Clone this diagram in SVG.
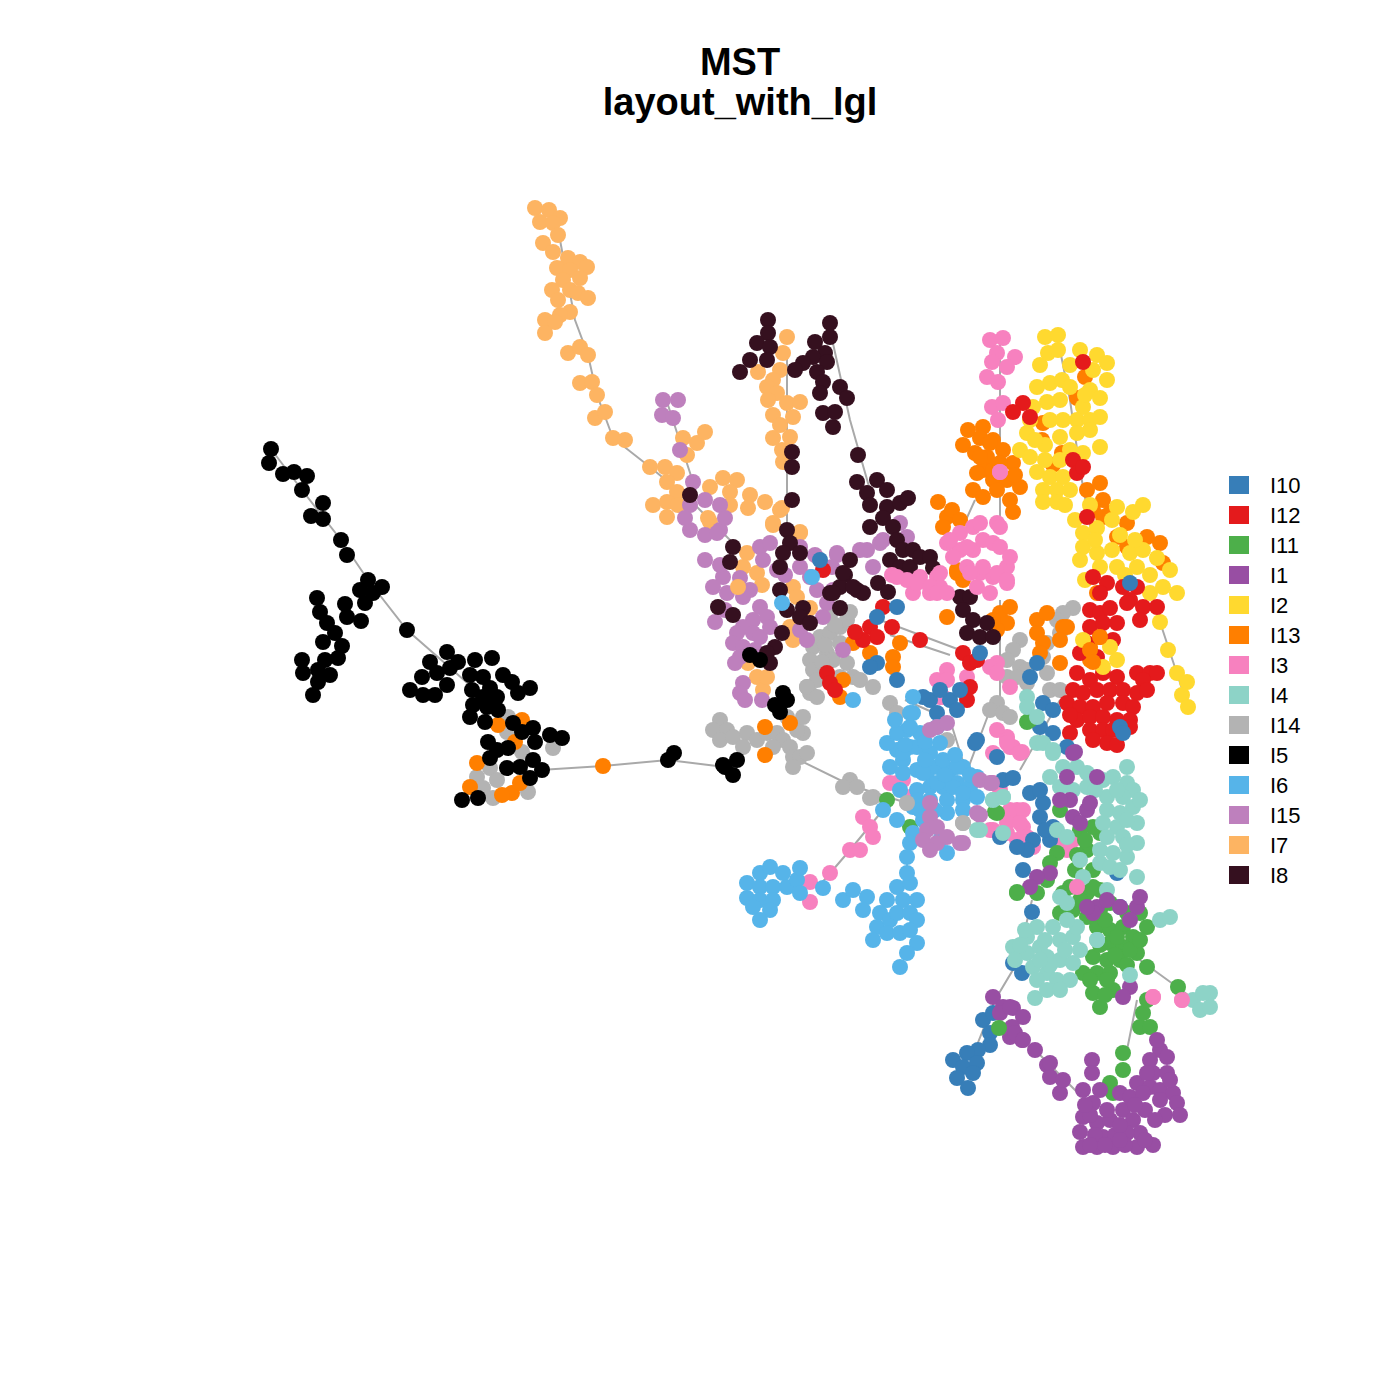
<svg xmlns="http://www.w3.org/2000/svg" width="1400" height="1400" viewBox="0 0 1400 1400">
<style>
circle{r:8px}
.t{font-family:"Liberation Sans",Arial,sans-serif;font-weight:bold;font-size:38px;text-anchor:middle;fill:#000}
.l{font-family:"Liberation Sans",Arial,sans-serif;font-size:22px;fill:#000}
.e{fill:none;stroke:#A9A9A9;stroke-width:2}
</style>
<rect width="1400" height="1400" fill="#fff"/>
<text class="t" x="740" y="75">MST</text>
<text class="t" x="740" y="115">layout_with_lgl</text>
<g id="edges">
<path class="e" d="M271,449 L302,490 L341,540 L368,580 L407,630 L447,665 L483,697 L507,730 L540,770 L603,766 L668,760 L725,767 M560,240 L575,320 L588,355 L597,395 L613,438 L650,467 L690,500 L740,550 M668,405 L693,482 M787,350 L787,540 M830,330 L850,420 L870,490 M793,757 L850,785 L907,803 M907,857 L907,887 M883,810 L850,850 L820,885 M1058,340 L1070,400 L1080,470 L1100,580 M1160,622 L1188,707 M1000,345 L1000,520 M975,500 L950,555 M990,710 L960,790 M1032,900 L1017,963 L995,1000 L975,1050 M1137,1000 L1125,1060 M1140,960 L1195,1000 M1035,1050 L1080,1095 M890,635 L950,655 M905,700 L950,720 L975,800 M880,620 L960,650 M1000,600 L1000,720 M1060,700 L1020,770"/>
</g>
<g id="I14" fill="#B3B3B3">
<circle cx="508" cy="717"/><circle cx="507" cy="732"/><circle cx="522" cy="752"/><circle cx="553" cy="748"/><circle cx="490" cy="768"/><circle cx="477" cy="777"/><circle cx="497" cy="780"/><circle cx="483" cy="788"/><circle cx="493" cy="798"/><circle cx="528" cy="792"/>
<circle cx="813" cy="647"/><circle cx="810" cy="660"/><circle cx="820" cy="637"/><circle cx="830" cy="633"/><circle cx="840" cy="627"/><circle cx="847" cy="620"/><circle cx="840" cy="643"/><circle cx="827" cy="653"/><circle cx="813" cy="670"/><circle cx="817" cy="680"/><circle cx="807" cy="687"/><circle cx="810" cy="693"/><circle cx="833" cy="660"/><circle cx="847" cy="663"/><circle cx="853" cy="677"/><circle cx="840" cy="677"/>
<circle cx="720" cy="720"/><circle cx="713" cy="730"/><circle cx="727" cy="730"/><circle cx="720" cy="740"/><circle cx="733" cy="737"/><circle cx="747" cy="733"/><circle cx="743" cy="747"/><circle cx="757" cy="740"/><circle cx="767" cy="733"/><circle cx="777" cy="733"/><circle cx="783" cy="740"/><circle cx="773" cy="747"/><circle cx="790" cy="747"/><circle cx="793" cy="757"/><circle cx="800" cy="757"/><circle cx="807" cy="753"/><circle cx="803" cy="733"/><circle cx="797" cy="730"/><circle cx="803" cy="717"/><circle cx="787" cy="717"/><circle cx="807" cy="687"/><circle cx="817" cy="697"/><circle cx="850" cy="780"/><circle cx="843" cy="787"/><circle cx="857" cy="787"/><circle cx="873" cy="797"/><circle cx="793" cy="767"/><circle cx="870" cy="798"/><circle cx="907" cy="803"/><circle cx="963" cy="823"/>
<circle cx="1073" cy="608"/><circle cx="1063" cy="613"/><circle cx="1057" cy="620"/><circle cx="1060" cy="633"/><circle cx="1047" cy="643"/><circle cx="1043" cy="657"/><circle cx="1020" cy="640"/><circle cx="1013" cy="650"/><circle cx="1007" cy="660"/><circle cx="1020" cy="667"/><circle cx="1027" cy="670"/><circle cx="1007" cy="677"/><circle cx="1017" cy="677"/><circle cx="1027" cy="683"/><circle cx="1047" cy="673"/><circle cx="1050" cy="690"/><circle cx="1060" cy="690"/><circle cx="997" cy="703"/><circle cx="990" cy="710"/><circle cx="1003" cy="713"/><circle cx="947" cy="740"/>
<circle cx="830" cy="615"/><circle cx="850" cy="612"/><circle cx="835" cy="625"/><circle cx="860" cy="680"/><circle cx="873" cy="687"/><circle cx="890" cy="703"/><circle cx="897" cy="713"/><circle cx="1010" cy="717"/><circle cx="825" cy="645"/><circle cx="822" cy="662"/>
</g>
<g id="I13" fill="#FF7F00">
<circle cx="522" cy="720"/><circle cx="498" cy="725"/><circle cx="515" cy="742"/><circle cx="477" cy="763"/><circle cx="470" cy="787"/><circle cx="512" cy="793"/><circle cx="520" cy="783"/><circle cx="502" cy="795"/><circle cx="603" cy="766"/>
<circle cx="968" cy="430"/><circle cx="983" cy="427"/><circle cx="963" cy="445"/><circle cx="980" cy="438"/><circle cx="993" cy="440"/><circle cx="1003" cy="450"/><circle cx="975" cy="453"/><circle cx="987" cy="457"/><circle cx="1013" cy="463"/><circle cx="983" cy="470"/><circle cx="993" cy="480"/><circle cx="1007" cy="480"/><circle cx="1020" cy="487"/><circle cx="973" cy="490"/><circle cx="983" cy="497"/><circle cx="997" cy="490"/><circle cx="1010" cy="500"/><circle cx="1013" cy="512"/><circle cx="1043" cy="423"/><circle cx="1042" cy="440"/><circle cx="1053" cy="465"/><circle cx="1062" cy="453"/><circle cx="1077" cy="398"/><circle cx="1085" cy="377"/>
<circle cx="990" cy="443"/><circle cx="980" cy="457"/><circle cx="993" cy="470"/><circle cx="977" cy="473"/><circle cx="938" cy="502"/><circle cx="947" cy="517"/><circle cx="952" cy="510"/><circle cx="960" cy="520"/><circle cx="957" cy="573"/><circle cx="963" cy="580"/><circle cx="943" cy="527"/><circle cx="1000" cy="463"/><circle cx="1015" cy="475"/>
<circle cx="947" cy="617"/><circle cx="1000" cy="613"/><circle cx="1007" cy="623"/><circle cx="997" cy="630"/><circle cx="1037" cy="620"/><circle cx="1047" cy="613"/><circle cx="1037" cy="633"/><circle cx="1043" cy="643"/><circle cx="1063" cy="627"/><circle cx="1060" cy="663"/><circle cx="1040" cy="653"/>
<circle cx="1087" cy="490"/><circle cx="1100" cy="483"/><circle cx="1103" cy="500"/><circle cx="1093" cy="510"/><circle cx="1103" cy="517"/><circle cx="1110" cy="513"/><circle cx="1127" cy="523"/><circle cx="1117" cy="537"/><circle cx="1127" cy="547"/><circle cx="1147" cy="537"/><circle cx="1160" cy="543"/><circle cx="1163" cy="563"/><circle cx="1097" cy="593"/>
<circle cx="853" cy="643"/><circle cx="870" cy="653"/><circle cx="900" cy="643"/><circle cx="893" cy="657"/><circle cx="893" cy="667"/><circle cx="843" cy="680"/><circle cx="840" cy="697"/><circle cx="1010" cy="607"/><circle cx="957" cy="570"/><circle cx="765" cy="727"/><circle cx="765" cy="755"/><circle cx="790" cy="723"/><circle cx="993" cy="620"/><circle cx="1067" cy="627"/><circle cx="1060" cy="640"/><circle cx="1100" cy="637"/><circle cx="1090" cy="647"/><circle cx="1090" cy="660"/>
</g>
<g id="I7" fill="#FDB462">
<circle cx="535" cy="208"/><circle cx="549" cy="210"/><circle cx="560" cy="218"/><circle cx="540" cy="222"/><circle cx="553" cy="223"/><circle cx="558" cy="235"/><circle cx="543" cy="243"/><circle cx="553" cy="252"/><circle cx="568" cy="258"/><circle cx="580" cy="262"/><circle cx="587" cy="267"/><circle cx="557" cy="268"/><circle cx="570" cy="270"/><circle cx="563" cy="280"/><circle cx="580" cy="278"/><circle cx="552" cy="290"/><circle cx="558" cy="300"/><circle cx="570" cy="290"/><circle cx="578" cy="293"/><circle cx="588" cy="298"/><circle cx="570" cy="312"/><circle cx="560" cy="315"/><circle cx="545" cy="320"/><circle cx="555" cy="322"/><circle cx="545" cy="333"/><circle cx="568" cy="353"/><circle cx="580" cy="347"/><circle cx="588" cy="355"/><circle cx="580" cy="383"/><circle cx="592" cy="382"/><circle cx="597" cy="395"/><circle cx="595" cy="418"/><circle cx="605" cy="412"/><circle cx="613" cy="438"/><circle cx="625" cy="440"/><circle cx="650" cy="467"/><circle cx="665" cy="467"/><circle cx="677" cy="473"/><circle cx="667" cy="482"/><circle cx="677" cy="492"/><circle cx="653" cy="505"/><circle cx="667" cy="502"/><circle cx="678" cy="505"/><circle cx="667" cy="517"/><circle cx="710" cy="487"/><circle cx="723" cy="478"/><circle cx="737" cy="480"/><circle cx="730" cy="492"/><circle cx="750" cy="495"/><circle cx="730" cy="505"/><circle cx="748" cy="508"/><circle cx="765" cy="502"/><circle cx="782" cy="508"/><circle cx="773" cy="525"/><circle cx="683" cy="438"/><circle cx="697" cy="443"/><circle cx="705" cy="432"/><circle cx="687" cy="455"/>
<circle cx="787" cy="337"/><circle cx="783" cy="353"/><circle cx="780" cy="370"/><circle cx="758" cy="372"/><circle cx="773" cy="380"/><circle cx="767" cy="387"/><circle cx="777" cy="393"/><circle cx="768" cy="400"/><circle cx="787" cy="403"/><circle cx="800" cy="402"/><circle cx="793" cy="417"/><circle cx="773" cy="415"/><circle cx="780" cy="425"/><circle cx="773" cy="438"/><circle cx="790" cy="437"/><circle cx="782" cy="450"/><circle cx="783" cy="462"/><circle cx="780" cy="510"/><circle cx="773" cy="523"/><circle cx="800" cy="532"/>
<circle cx="710" cy="522"/><circle cx="800" cy="533"/><circle cx="747" cy="553"/><circle cx="743" cy="567"/><circle cx="757" cy="573"/><circle cx="762" cy="585"/><circle cx="793" cy="587"/><circle cx="797" cy="597"/><circle cx="810" cy="608"/><circle cx="790" cy="627"/><circle cx="793" cy="640"/><circle cx="748" cy="663"/><circle cx="757" cy="677"/><circle cx="763" cy="690"/><circle cx="767" cy="677"/>
</g>
<g id="I15" fill="#BE80BD">
<circle cx="663" cy="400"/><circle cx="678" cy="400"/><circle cx="662" cy="415"/><circle cx="673" cy="418"/><circle cx="680" cy="450"/><circle cx="693" cy="482"/>
<circle cx="690" cy="505"/><circle cx="720" cy="505"/><circle cx="690" cy="530"/><circle cx="720" cy="530"/><circle cx="705" cy="500"/><circle cx="705" cy="535"/><circle cx="685" cy="518"/><circle cx="725" cy="518"/>
<circle cx="717" cy="533"/><circle cx="760" cy="547"/><circle cx="770" cy="543"/><circle cx="763" cy="560"/><circle cx="777" cy="570"/><circle cx="723" cy="577"/><circle cx="713" cy="587"/><circle cx="727" cy="593"/><circle cx="743" cy="597"/><circle cx="750" cy="590"/><circle cx="760" cy="607"/><circle cx="767" cy="617"/><circle cx="753" cy="620"/><circle cx="743" cy="627"/><circle cx="737" cy="633"/><circle cx="753" cy="633"/><circle cx="733" cy="643"/><circle cx="743" cy="647"/><circle cx="760" cy="637"/><circle cx="770" cy="627"/><circle cx="740" cy="657"/><circle cx="743" cy="683"/><circle cx="740" cy="693"/><circle cx="800" cy="630"/><circle cx="807" cy="640"/><circle cx="800" cy="547"/><circle cx="800" cy="567"/><circle cx="810" cy="577"/><circle cx="817" cy="590"/><circle cx="827" cy="603"/><circle cx="823" cy="617"/><circle cx="837" cy="553"/><circle cx="833" cy="590"/><circle cx="843" cy="650"/>
<circle cx="705" cy="560"/><circle cx="720" cy="565"/><circle cx="740" cy="578"/><circle cx="725" cy="610"/><circle cx="715" cy="622"/><circle cx="755" cy="650"/><circle cx="735" cy="663"/><circle cx="745" cy="700"/><circle cx="762" cy="700"/><circle cx="785" cy="575"/><circle cx="815" cy="555"/>
<circle cx="900" cy="523"/><circle cx="907" cy="537"/><circle cx="867" cy="550"/><circle cx="880" cy="543"/><circle cx="860" cy="550"/><circle cx="873" cy="567"/><circle cx="837" cy="555"/><circle cx="832" cy="567"/><circle cx="883" cy="540"/>
<circle fill="#FDB462" cx="708" cy="518"/><circle fill="#FDB462" cx="738" cy="587"/>
</g>
<g id="I8" fill="#35101F">
<circle cx="690" cy="495"/><circle cx="768" cy="320"/><circle cx="768" cy="333"/><circle cx="757" cy="343"/><circle cx="770" cy="347"/><circle cx="750" cy="360"/><circle cx="767" cy="360"/><circle cx="740" cy="372"/><circle cx="830" cy="323"/><circle cx="830" cy="337"/><circle cx="815" cy="342"/><circle cx="825" cy="353"/><circle cx="813" cy="357"/><circle cx="827" cy="362"/><circle cx="803" cy="363"/><circle cx="795" cy="370"/><circle cx="817" cy="372"/><circle cx="823" cy="382"/><circle cx="840" cy="387"/><circle cx="820" cy="393"/><circle cx="847" cy="398"/><circle cx="823" cy="413"/><circle cx="835" cy="412"/><circle cx="833" cy="427"/><circle cx="792" cy="452"/><circle cx="792" cy="467"/><circle cx="792" cy="500"/>
<circle cx="858" cy="455"/><circle cx="857" cy="482"/><circle cx="877" cy="480"/><circle cx="867" cy="493"/><circle cx="887" cy="490"/><circle cx="870" cy="505"/><circle cx="887" cy="507"/><circle cx="900" cy="503"/><circle cx="908" cy="498"/><circle cx="883" cy="518"/><circle cx="870" cy="527"/><circle cx="893" cy="527"/><circle cx="897" cy="540"/><circle cx="890" cy="560"/><circle cx="903" cy="550"/><circle cx="913" cy="550"/><circle cx="900" cy="567"/><circle cx="910" cy="567"/><circle cx="920" cy="557"/><circle cx="930" cy="557"/><circle cx="933" cy="568"/><circle cx="850" cy="560"/><circle cx="845" cy="575"/><circle cx="840" cy="587"/><circle cx="857" cy="590"/><circle cx="863" cy="593"/><circle cx="830" cy="593"/><circle cx="878" cy="583"/><circle cx="888" cy="592"/>
<circle cx="733" cy="547"/><circle cx="730" cy="562"/><circle cx="787" cy="530"/><circle cx="790" cy="543"/><circle cx="783" cy="553"/><circle cx="800" cy="553"/><circle cx="780" cy="567"/><circle cx="780" cy="590"/><circle cx="787" cy="610"/><circle cx="803" cy="608"/><circle cx="800" cy="617"/><circle cx="810" cy="623"/><circle cx="782" cy="633"/><circle cx="775" cy="647"/><circle cx="767" cy="653"/><circle cx="770" cy="663"/><circle cx="718" cy="607"/><circle cx="733" cy="615"/><circle cx="843" cy="573"/><circle cx="833" cy="593"/><circle cx="840" cy="608"/><circle cx="853" cy="587"/>
<circle cx="960" cy="597"/><circle cx="970" cy="597"/><circle cx="963" cy="610"/><circle cx="973" cy="620"/><circle cx="987" cy="623"/><circle cx="967" cy="633"/><circle cx="980" cy="637"/><circle cx="993" cy="637"/>
</g>
<g id="I3" fill="#F781BF">
<circle cx="990" cy="340"/><circle cx="1003" cy="338"/><circle cx="997" cy="353"/><circle cx="1015" cy="357"/><circle cx="992" cy="362"/><circle cx="1007" cy="367"/><circle cx="987" cy="377"/><circle cx="998" cy="382"/><circle cx="992" cy="407"/><circle cx="1003" cy="403"/><circle cx="998" cy="420"/>
<circle cx="892" cy="575"/><circle cx="907" cy="580"/><circle cx="920" cy="577"/><circle cx="937" cy="577"/><circle cx="913" cy="593"/><circle cx="930" cy="593"/><circle cx="940" cy="587"/><circle cx="947" cy="543"/><circle cx="960" cy="533"/><circle cx="973" cy="527"/><circle cx="980" cy="523"/><circle cx="960" cy="550"/><circle cx="973" cy="550"/><circle cx="983" cy="540"/><circle cx="953" cy="557"/><circle cx="980" cy="573"/><circle cx="993" cy="577"/><circle cx="977" cy="587"/><circle cx="990" cy="593"/><circle cx="997" cy="523"/><circle cx="993" cy="543"/><circle cx="897" cy="577"/><circle cx="917" cy="583"/><circle cx="930" cy="587"/><circle cx="967" cy="547"/><circle cx="967" cy="567"/><circle cx="1000" cy="547"/><circle cx="1007" cy="567"/><circle cx="1000" cy="527"/><circle cx="950" cy="540"/><circle cx="1010" cy="557"/><circle cx="983" cy="567"/><circle cx="970" cy="573"/><circle cx="1007" cy="583"/><circle cx="940" cy="573"/><circle cx="937" cy="593"/><circle cx="947" cy="593"/>
<circle cx="937" cy="680"/><circle cx="947" cy="670"/><circle cx="943" cy="697"/><circle cx="967" cy="677"/><circle cx="993" cy="667"/><circle cx="1010" cy="687"/><circle cx="997" cy="730"/><circle cx="1010" cy="747"/><circle cx="997" cy="573"/><circle cx="1007" cy="580"/><circle cx="997" cy="663"/><circle cx="1007" cy="737"/><circle cx="1013" cy="747"/><circle cx="1022" cy="752"/><circle cx="947" cy="680"/><circle cx="990" cy="667"/><circle cx="997" cy="673"/><circle cx="940" cy="697"/>
<circle cx="890" cy="783"/><circle cx="903" cy="780"/><circle cx="910" cy="797"/><circle cx="863" cy="817"/><circle cx="870" cy="827"/><circle cx="873" cy="837"/><circle cx="850" cy="850"/><circle cx="860" cy="850"/><circle cx="830" cy="873"/><circle cx="810" cy="882"/><circle cx="810" cy="902"/><circle cx="897" cy="783"/>
<circle cx="1007" cy="740"/><circle cx="1020" cy="753"/><circle cx="990" cy="830"/><circle cx="1007" cy="833"/><circle cx="1007" cy="817"/><circle cx="1017" cy="810"/><circle cx="1023" cy="827"/><circle cx="993" cy="753"/><circle cx="1007" cy="743"/><circle cx="1000" cy="790"/><circle cx="993" cy="783"/><circle cx="1010" cy="810"/><circle cx="1023" cy="810"/><circle cx="1007" cy="823"/><circle cx="1020" cy="823"/><circle cx="1027" cy="837"/><circle cx="1033" cy="847"/><circle cx="1017" cy="840"/><circle cx="993" cy="830"/><circle cx="1060" cy="840"/><circle cx="1073" cy="840"/><circle cx="1067" cy="850"/><circle cx="1077" cy="887"/><circle cx="1182" cy="1000"/><circle cx="1153" cy="997"/><circle cx="1000" cy="472"/>
</g>
<g id="I2" fill="#FFD92F">
<circle cx="1045" cy="337"/><circle cx="1058" cy="335"/><circle cx="1048" cy="353"/><circle cx="1058" cy="350"/><circle cx="1080" cy="350"/><circle cx="1097" cy="355"/><circle cx="1107" cy="363"/><circle cx="1093" cy="370"/><circle cx="1107" cy="380"/><circle cx="1037" cy="387"/><circle cx="1050" cy="383"/><circle cx="1062" cy="380"/><circle cx="1070" cy="387"/><circle cx="1090" cy="390"/><circle cx="1100" cy="398"/><circle cx="1033" cy="407"/><circle cx="1047" cy="402"/><circle cx="1060" cy="400"/><circle cx="1083" cy="407"/><circle cx="1100" cy="417"/><circle cx="1050" cy="420"/><circle cx="1063" cy="420"/><circle cx="1077" cy="420"/><circle cx="1090" cy="420"/><circle cx="1027" cy="433"/><circle cx="1020" cy="450"/><circle cx="1030" cy="457"/><circle cx="1060" cy="437"/><circle cx="1077" cy="433"/><circle cx="1090" cy="430"/><circle cx="1100" cy="447"/><circle cx="1037" cy="472"/><circle cx="1050" cy="477"/><circle cx="1063" cy="477"/><circle cx="1083" cy="453"/><circle cx="1043" cy="490"/><circle cx="1057" cy="490"/><circle cx="1070" cy="490"/><circle cx="1043" cy="502"/><circle cx="1057" cy="502"/>
<circle cx="1040" cy="365"/><circle cx="1070" cy="365"/><circle cx="1085" cy="395"/><circle cx="1045" cy="445"/><circle cx="1070" cy="450"/><circle cx="1030" cy="420"/><circle cx="1060" cy="460"/><circle cx="1045" cy="460"/><circle cx="1035" cy="440"/><circle cx="1065" cy="505"/>
<circle cx="1075" cy="520"/><circle cx="1090" cy="505"/><circle cx="1117" cy="507"/><circle cx="1133" cy="512"/><circle cx="1143" cy="505"/><circle cx="1083" cy="533"/><circle cx="1097" cy="528"/><circle cx="1112" cy="520"/><circle cx="1083" cy="547"/><circle cx="1097" cy="553"/><circle cx="1112" cy="550"/><circle cx="1130" cy="553"/><circle cx="1143" cy="550"/><circle cx="1100" cy="567"/><circle cx="1117" cy="567"/><circle cx="1137" cy="567"/><circle cx="1157" cy="558"/><circle cx="1170" cy="570"/><circle cx="1163" cy="587"/><circle cx="1177" cy="593"/><circle cx="1150" cy="593"/><circle cx="1160" cy="622"/><circle cx="1168" cy="650"/><circle cx="1177" cy="673"/><circle cx="1187" cy="682"/><circle cx="1182" cy="695"/><circle cx="1188" cy="707"/><circle cx="1085" cy="580"/>
<circle cx="1095" cy="540"/><circle cx="1120" cy="535"/><circle cx="1135" cy="540"/><circle cx="1125" cy="575"/><circle cx="1150" cy="575"/><circle cx="1080" cy="560"/>
</g>
<g id="I12" fill="#E41A1C">
<circle cx="1023" cy="403"/><circle cx="1013" cy="412"/><circle cx="1030" cy="417"/><circle cx="1083" cy="362"/><circle cx="1073" cy="460"/><circle cx="1077" cy="473"/><circle cx="1083" cy="467"/><circle cx="1087" cy="517"/>
<circle cx="1093" cy="577"/><circle cx="1107" cy="583"/><circle cx="1123" cy="587"/><circle cx="1137" cy="587"/><circle cx="1130" cy="600"/><circle cx="1143" cy="607"/><circle cx="1157" cy="607"/><circle cx="1140" cy="620"/><circle cx="1100" cy="593"/><circle cx="1127" cy="603"/><circle cx="1090" cy="610"/><circle cx="1100" cy="613"/><circle cx="1110" cy="608"/><circle cx="1090" cy="627"/><circle cx="1103" cy="623"/><circle cx="1117" cy="623"/><circle cx="1087" cy="643"/><circle cx="1113" cy="640"/><circle cx="1080" cy="653"/><circle cx="1097" cy="657"/><circle cx="1077" cy="673"/><circle cx="1090" cy="680"/><circle cx="1103" cy="673"/><circle cx="1117" cy="677"/><circle cx="1137" cy="673"/><circle cx="1150" cy="673"/><circle cx="1157" cy="673"/><circle cx="1143" cy="680"/><circle cx="1073" cy="690"/><circle cx="1083" cy="693"/><circle cx="1097" cy="690"/><circle cx="1110" cy="690"/><circle cx="1123" cy="690"/><circle cx="1137" cy="693"/><circle cx="1067" cy="703"/><circle cx="1080" cy="707"/><circle cx="1093" cy="707"/><circle cx="1107" cy="703"/><circle cx="1123" cy="703"/><circle cx="1133" cy="707"/><circle cx="1077" cy="720"/><circle cx="1090" cy="717"/><circle cx="1103" cy="717"/><circle cx="1117" cy="720"/><circle cx="1130" cy="720"/><circle cx="1070" cy="733"/><circle cx="1090" cy="730"/><circle cx="1103" cy="730"/><circle cx="1113" cy="730"/><circle cx="1130" cy="727"/><circle cx="1107" cy="743"/><circle cx="1117" cy="745"/><circle cx="1093" cy="740"/><circle cx="1070" cy="715"/><circle cx="1147" cy="690"/>
<circle cx="883" cy="607"/><circle cx="870" cy="627"/><circle cx="877" cy="637"/><circle cx="863" cy="640"/><circle cx="827" cy="673"/><circle cx="830" cy="683"/><circle cx="892" cy="627"/><circle cx="920" cy="640"/><circle cx="963" cy="653"/><circle cx="970" cy="663"/><circle cx="967" cy="700"/><circle cx="970" cy="687"/><circle cx="823" cy="570"/><circle cx="977" cy="660"/><circle cx="835" cy="690"/><circle cx="855" cy="632"/>
</g>
<g id="I2b" fill="#FFD92F"><circle cx="1083" cy="640"/><circle cx="1110" cy="647"/><circle cx="1117" cy="660"/><circle cx="1103" cy="667"/></g>
<g id="I13b" fill="#FF7F00"><circle cx="1100" cy="637"/><circle cx="1090" cy="650"/><circle cx="1093" cy="662"/></g>
<g id="I10" fill="#377EB8">
<circle cx="877" cy="617"/><circle cx="897" cy="607"/><circle cx="877" cy="663"/><circle cx="870" cy="667"/><circle cx="820" cy="560"/><circle cx="930" cy="700"/><circle cx="937" cy="713"/><circle cx="950" cy="700"/><circle cx="957" cy="710"/><circle cx="977" cy="740"/><circle cx="997" cy="757"/><circle cx="1003" cy="780"/><circle cx="980" cy="653"/><circle cx="1037" cy="663"/><circle cx="1030" cy="677"/><circle cx="1043" cy="703"/><circle cx="1053" cy="710"/><circle cx="1040" cy="727"/><circle cx="1053" cy="733"/><circle cx="1130" cy="583"/><circle cx="1120" cy="727"/><circle cx="1123" cy="733"/><circle cx="897" cy="680"/><circle cx="923" cy="697"/><circle cx="940" cy="690"/><circle cx="960" cy="690"/>
<circle cx="975" cy="743"/><circle cx="1013" cy="778"/><circle cx="1030" cy="793"/><circle cx="1043" cy="803"/><circle cx="1040" cy="817"/><circle cx="1053" cy="827"/><circle cx="1050" cy="840"/><circle cx="1033" cy="840"/><circle cx="1027" cy="850"/><circle cx="1023" cy="870"/><circle cx="1032" cy="912"/><circle cx="1013" cy="963"/><circle cx="1022" cy="973"/><circle cx="1000" cy="837"/><circle cx="1017" cy="847"/><circle cx="1117" cy="873"/><circle cx="1120" cy="907"/><circle cx="1067" cy="747"/><circle cx="1040" cy="790"/><circle cx="1045" cy="830"/>
<circle cx="983" cy="1020"/><circle cx="993" cy="1013"/><circle cx="990" cy="1033"/><circle cx="990" cy="1045"/><circle cx="978" cy="1050"/><circle cx="967" cy="1053"/><circle cx="953" cy="1060"/><circle cx="963" cy="1067"/><circle cx="977" cy="1063"/><circle cx="957" cy="1078"/><circle cx="968" cy="1088"/><circle cx="973" cy="1073"/>
</g>
<g id="I11" fill="#4DAF4A">
<circle cx="1110" cy="1083"/><circle cx="1123" cy="1053"/><circle cx="1123" cy="1070"/><circle cx="1113" cy="1093"/><circle cx="1140" cy="1027"/><circle cx="1150" cy="1027"/><circle cx="1143" cy="1013"/><circle cx="1147" cy="1000"/>
<circle cx="1097" cy="927"/><circle cx="1110" cy="930"/><circle cx="1123" cy="927"/><circle cx="1133" cy="937"/><circle cx="1110" cy="943"/><circle cx="1123" cy="947"/><circle cx="1137" cy="953"/><circle cx="1093" cy="957"/><circle cx="1107" cy="960"/><circle cx="1120" cy="960"/><circle cx="1147" cy="967"/><circle cx="1097" cy="973"/><circle cx="1110" cy="973"/><circle cx="1093" cy="993"/><circle cx="1100" cy="1007"/><circle cx="1113" cy="990"/><circle cx="1083" cy="973"/><circle cx="1107" cy="980"/><circle cx="1060" cy="913"/><circle cx="1073" cy="910"/><circle cx="1087" cy="917"/><circle cx="1100" cy="910"/><circle cx="1110" cy="903"/><circle cx="1127" cy="913"/><circle cx="1140" cy="913"/><circle cx="1147" cy="927"/><circle cx="1070" cy="887"/><circle cx="1087" cy="893"/><circle cx="1093" cy="870"/><circle cx="1100" cy="833"/><circle cx="1093" cy="827"/><circle cx="1060" cy="810"/><circle cx="1057" cy="853"/><circle cx="1050" cy="863"/><circle cx="1017" cy="893"/><circle cx="1178" cy="987"/><circle cx="995" cy="812"/><circle cx="1027" cy="722"/><circle cx="887" cy="800"/><circle cx="910" cy="827"/><circle cx="1080" cy="830"/><circle cx="1087" cy="850"/><circle cx="1075" cy="870"/><circle cx="1100" cy="890"/><circle cx="1063" cy="893"/><circle cx="1080" cy="900"/><circle cx="1093" cy="887"/><circle cx="1047" cy="880"/><circle cx="1037" cy="893"/><circle cx="1030" cy="720"/>
<circle cx="1105" cy="920"/><circle cx="1117" cy="937"/><circle cx="1130" cy="950"/><circle cx="1100" cy="945"/><circle cx="1115" cy="955"/><circle cx="1140" cy="940"/><circle cx="1127" cy="965"/><circle cx="1105" cy="995"/><circle cx="1090" cy="980"/><circle cx="1085" cy="840"/><circle cx="1077" cy="855"/>
</g>
<g id="I4" fill="#8DD3C7">
<circle cx="1013" cy="947"/><circle cx="1027" cy="937"/><circle cx="1037" cy="927"/><circle cx="1027" cy="953"/><circle cx="1040" cy="947"/><circle cx="1053" cy="927"/><circle cx="1060" cy="940"/><circle cx="1073" cy="937"/><circle cx="1080" cy="950"/><circle cx="1047" cy="957"/><circle cx="1060" cy="960"/><circle cx="1073" cy="963"/><circle cx="1033" cy="967"/><circle cx="1047" cy="973"/><circle cx="1037" cy="980"/><circle cx="1057" cy="980"/><circle cx="1070" cy="980"/><circle cx="1035" cy="998"/><circle cx="1047" cy="990"/><circle cx="1060" cy="990"/><circle cx="1077" cy="927"/><circle cx="1067" cy="920"/>
<circle cx="1020" cy="945"/><circle cx="1015" cy="960"/><circle cx="1045" cy="940"/><circle cx="1065" cy="950"/><circle cx="1050" cy="965"/><circle cx="1040" cy="960"/><circle cx="1025" cy="930"/>
<circle cx="1050" cy="777"/><circle cx="1063" cy="767"/><circle cx="1077" cy="767"/><circle cx="1087" cy="773"/><circle cx="1060" cy="787"/><circle cx="1073" cy="790"/><circle cx="1087" cy="787"/><circle cx="1103" cy="780"/><circle cx="1113" cy="777"/><circle cx="1127" cy="767"/><circle cx="1127" cy="783"/><circle cx="1133" cy="790"/><circle cx="1107" cy="797"/><circle cx="1123" cy="797"/><circle cx="1133" cy="807"/><circle cx="1107" cy="810"/><circle cx="1120" cy="813"/><circle cx="1103" cy="823"/><circle cx="1117" cy="827"/><circle cx="1137" cy="823"/><circle cx="1107" cy="837"/><circle cx="1123" cy="837"/><circle cx="1137" cy="843"/><circle cx="1100" cy="850"/><circle cx="1113" cy="853"/><circle cx="1127" cy="857"/><circle cx="1100" cy="863"/><circle cx="1110" cy="867"/><circle cx="1137" cy="877"/><circle cx="1107" cy="890"/><circle cx="1083" cy="877"/><circle cx="1080" cy="860"/><circle cx="1060" cy="897"/><circle cx="1067" cy="903"/><circle cx="1057" cy="830"/><circle cx="1067" cy="837"/><circle cx="1160" cy="920"/><circle cx="1170" cy="917"/><circle cx="1003" cy="797"/><circle cx="993" cy="800"/><circle cx="977" cy="830"/><circle cx="1003" cy="833"/><circle cx="1037" cy="743"/><circle cx="1053" cy="753"/>
<circle cx="1117" cy="790"/><circle cx="1095" cy="790"/><circle cx="1120" cy="870"/><circle cx="1127" cy="845"/><circle cx="1140" cy="800"/><circle cx="1127" cy="820"/>
<circle cx="1193" cy="1000"/><circle cx="1200" cy="1010"/><circle cx="1210" cy="1007"/><circle cx="1210" cy="993"/><circle cx="1203" cy="993"/>
<circle cx="1027" cy="697"/><circle cx="1027" cy="707"/><circle cx="1037" cy="717"/><circle cx="1043" cy="743"/><circle cx="1053" cy="750"/>
</g>
<g id="I1" fill="#984EA3">
<circle cx="993" cy="997"/><circle cx="1003" cy="1007"/><circle cx="1013" cy="1008"/><circle cx="1023" cy="1017"/><circle cx="1000" cy="1013"/><circle cx="1012" cy="1027"/><circle cx="1010" cy="1037"/><circle cx="1022" cy="1040"/><circle cx="1035" cy="1050"/><circle cx="1047" cy="1065"/><circle cx="1050" cy="1077"/><circle cx="1060" cy="1093"/><circle cx="1063" cy="1080"/><circle cx="1050" cy="1063"/>
<circle cx="1092" cy="1060"/><circle cx="1092" cy="1073"/><circle cx="1083" cy="1090"/><circle cx="1093" cy="1103"/><circle cx="1083" cy="1117"/><circle cx="1080" cy="1132"/><circle cx="1083" cy="1147"/><circle cx="1097" cy="1123"/><circle cx="1103" cy="1137"/><circle cx="1113" cy="1147"/><circle cx="1097" cy="1147"/><circle cx="1110" cy="1120"/><circle cx="1123" cy="1110"/><circle cx="1133" cy="1120"/><circle cx="1140" cy="1133"/><circle cx="1127" cy="1133"/><circle cx="1153" cy="1145"/><circle cx="1137" cy="1147"/><circle cx="1120" cy="1093"/><circle cx="1137" cy="1083"/><circle cx="1150" cy="1087"/><circle cx="1160" cy="1090"/><circle cx="1153" cy="1073"/><circle cx="1167" cy="1073"/><circle cx="1173" cy="1093"/><circle cx="1160" cy="1100"/><circle cx="1177" cy="1103"/><circle cx="1180" cy="1115"/><circle cx="1160" cy="1050"/><circle cx="1167" cy="1057"/><circle cx="1150" cy="1060"/><circle cx="1147" cy="1073"/><circle cx="1157" cy="1040"/><circle cx="1107" cy="1110"/><circle cx="1130" cy="1097"/><circle cx="1143" cy="1093"/><circle cx="1095" cy="1135"/><circle cx="1115" cy="1135"/><circle cx="1125" cy="1145"/><circle cx="1090" cy="1115"/><circle cx="1145" cy="1110"/><circle cx="1165" cy="1115"/>
<circle cx="1090" cy="1145"/><circle cx="1105" cy="1145"/><circle cx="1120" cy="1140"/><circle cx="1145" cy="1140"/><circle cx="1085" cy="1105"/><circle cx="1100" cy="1090"/><circle cx="1170" cy="1080"/><circle cx="1155" cy="1120"/><circle cx="1120" cy="1125"/><circle cx="1135" cy="1105"/>
<circle cx="1010" cy="1007"/><circle cx="1015" cy="1033"/><circle cx="1023" cy="1040"/>
<circle cx="1073" cy="753"/><circle cx="1067" cy="777"/><circle cx="1070" cy="800"/><circle cx="1060" cy="800"/><circle cx="1097" cy="777"/><circle cx="1087" cy="810"/><circle cx="1073" cy="817"/><circle cx="1080" cy="823"/><circle cx="1090" cy="803"/><circle cx="1050" cy="873"/><circle cx="1037" cy="877"/><circle cx="1030" cy="887"/><circle cx="1097" cy="907"/><circle cx="1093" cy="913"/><circle cx="1107" cy="900"/><circle cx="1120" cy="907"/><circle cx="1137" cy="907"/><circle cx="1140" cy="897"/><circle cx="1130" cy="920"/><circle cx="1130" cy="987"/><circle cx="1123" cy="997"/><circle cx="1087" cy="907"/><circle cx="1075" cy="752"/>
</g>
<g id="I11b" fill="#4DAF4A"><circle cx="999" cy="1028"/></g>
<g id="I4b" fill="#8DD3C7"><circle cx="1097" cy="940"/><circle cx="1130" cy="975"/></g>
<g id="I6" fill="#56B4E9">
<circle cx="897" cy="750"/><circle cx="910" cy="747"/><circle cx="903" cy="760"/><circle cx="890" cy="767"/><circle cx="903" cy="773"/><circle cx="917" cy="770"/><circle cx="927" cy="773"/><circle cx="937" cy="767"/><circle cx="950" cy="770"/><circle cx="963" cy="767"/><circle cx="977" cy="777"/><circle cx="930" cy="787"/><circle cx="943" cy="787"/><circle cx="957" cy="783"/><circle cx="970" cy="787"/><circle cx="930" cy="800"/><circle cx="947" cy="800"/><circle cx="963" cy="800"/><circle cx="977" cy="797"/><circle cx="917" cy="790"/><circle cx="913" cy="807"/><circle cx="947" cy="813"/><circle cx="963" cy="810"/><circle cx="923" cy="820"/><circle cx="913" cy="833"/><circle cx="910" cy="843"/><circle cx="907" cy="857"/><circle cx="897" cy="820"/><circle cx="883" cy="810"/><circle cx="947" cy="853"/><circle cx="940" cy="840"/><circle cx="937" cy="727"/><circle cx="940" cy="743"/><circle cx="913" cy="713"/><circle cx="907" cy="730"/><circle cx="920" cy="733"/><circle cx="887" cy="743"/><circle cx="897" cy="733"/><circle cx="910" cy="727"/>
<circle cx="853" cy="700"/><circle cx="913" cy="697"/><circle cx="910" cy="713"/><circle cx="903" cy="753"/><circle cx="917" cy="747"/><circle cx="930" cy="753"/><circle cx="943" cy="760"/><circle cx="957" cy="767"/><circle cx="923" cy="773"/><circle cx="937" cy="783"/><circle cx="953" cy="787"/><circle cx="917" cy="800"/><circle cx="963" cy="793"/><circle cx="812" cy="577"/><circle cx="782" cy="603"/>
<circle cx="925" cy="760"/><circle cx="955" cy="755"/><circle cx="945" cy="775"/><circle cx="970" cy="775"/><circle cx="920" cy="810"/><circle cx="935" cy="810"/><circle cx="900" cy="790"/><circle cx="905" cy="745"/><circle cx="925" cy="742"/><circle cx="895" cy="720"/>
<circle cx="760" cy="873"/><circle cx="770" cy="867"/><circle cx="783" cy="873"/><circle cx="747" cy="883"/><circle cx="760" cy="887"/><circle cx="773" cy="887"/><circle cx="787" cy="887"/><circle cx="797" cy="880"/><circle cx="800" cy="868"/><circle cx="800" cy="893"/><circle cx="747" cy="898"/><circle cx="760" cy="900"/><circle cx="773" cy="900"/><circle cx="753" cy="907"/><circle cx="770" cy="910"/><circle cx="760" cy="920"/><circle cx="823" cy="888"/><circle cx="843" cy="900"/><circle cx="853" cy="890"/><circle cx="867" cy="897"/><circle cx="863" cy="910"/><circle cx="880" cy="913"/><circle cx="877" cy="927"/><circle cx="890" cy="920"/><circle cx="897" cy="887"/><circle cx="910" cy="883"/><circle cx="887" cy="900"/><circle cx="903" cy="900"/><circle cx="917" cy="900"/><circle cx="897" cy="913"/><circle cx="910" cy="913"/><circle cx="917" cy="920"/><circle cx="887" cy="933"/><circle cx="900" cy="933"/><circle cx="910" cy="930"/><circle cx="873" cy="940"/><circle cx="917" cy="943"/><circle cx="907" cy="953"/><circle cx="900" cy="967"/><circle cx="907" cy="873"/>
</g>
<g id="I15b" fill="#BE80BD">
<circle cx="937" cy="727"/><circle cx="980" cy="780"/><circle cx="930" cy="803"/><circle cx="930" cy="817"/><circle cx="927" cy="830"/><circle cx="937" cy="827"/><circle cx="923" cy="840"/><circle cx="937" cy="843"/><circle cx="947" cy="837"/><circle cx="930" cy="850"/><circle cx="960" cy="843"/><circle cx="977" cy="813"/><circle cx="990" cy="783"/><circle cx="930" cy="730"/><circle cx="947" cy="723"/><circle cx="992" cy="783"/><circle cx="980" cy="815"/><circle cx="963" cy="843"/>
</g>
<g id="mix">
<circle fill="#4DAF4A" cx="997" cy="813"/><circle fill="#4DAF4A" cx="1017" cy="892"/><circle fill="#8DD3C7" cx="993" cy="800"/><circle fill="#8DD3C7" cx="1003" cy="797"/><circle fill="#8DD3C7" cx="980" cy="830"/><circle fill="#F781BF" cx="1077" cy="887"/><circle fill="#B3B3B3" cx="907" cy="803"/><circle fill="#B3B3B3" cx="963" cy="823"/><circle fill="#F781BF" cx="1153" cy="997"/><circle fill="#F781BF" cx="1182" cy="1000"/><circle fill="#F781BF" cx="1000" cy="472"/><circle fill="#8DD3C7" cx="1097" cy="940"/>
</g>
<g id="I5" fill="#000">
<circle cx="271" cy="449"/><circle cx="269" cy="463"/><circle cx="283" cy="474"/><circle cx="294" cy="472"/><circle cx="307" cy="476"/><circle cx="302" cy="490"/><circle cx="323" cy="503"/><circle cx="311" cy="516"/><circle cx="323" cy="519"/><circle cx="341" cy="540"/><circle cx="347" cy="555"/><circle cx="368" cy="580"/><circle cx="360" cy="590"/><circle cx="382" cy="587"/><circle cx="365" cy="603"/><circle cx="373" cy="593"/><circle cx="407" cy="630"/><circle cx="317" cy="598"/><circle cx="320" cy="612"/><circle cx="327" cy="623"/><circle cx="345" cy="604"/><circle cx="347" cy="617"/><circle cx="361" cy="621"/><circle cx="335" cy="633"/><circle cx="323" cy="642"/><circle cx="342" cy="646"/><circle cx="302" cy="660"/><circle cx="303" cy="673"/><circle cx="318" cy="670"/><circle cx="325" cy="660"/><circle cx="338" cy="658"/><circle cx="330" cy="675"/><circle cx="318" cy="682"/><circle cx="313" cy="695"/>
<circle cx="447" cy="652"/><circle cx="430" cy="662"/><circle cx="458" cy="662"/><circle cx="422" cy="677"/><circle cx="437" cy="673"/><circle cx="450" cy="668"/><circle cx="410" cy="690"/><circle cx="423" cy="695"/><circle cx="435" cy="695"/><circle cx="447" cy="685"/>
<circle cx="475" cy="660"/><circle cx="492" cy="658"/><circle cx="470" cy="675"/><circle cx="483" cy="677"/><circle cx="503" cy="675"/><circle cx="512" cy="682"/><circle cx="490" cy="688"/><circle cx="472" cy="690"/><circle cx="483" cy="697"/><circle cx="497" cy="697"/><circle cx="518" cy="693"/><circle cx="530" cy="688"/><circle cx="473" cy="705"/><circle cx="487" cy="707"/><circle cx="498" cy="710"/><circle cx="470" cy="717"/><circle cx="485" cy="722"/><circle cx="513" cy="723"/><circle cx="522" cy="732"/><circle cx="533" cy="728"/><circle cx="535" cy="742"/><circle cx="550" cy="735"/><circle cx="562" cy="738"/><circle cx="488" cy="742"/><circle cx="497" cy="750"/><circle cx="508" cy="748"/><circle cx="490" cy="758"/><circle cx="507" cy="768"/><circle cx="520" cy="767"/><circle cx="533" cy="760"/><circle cx="542" cy="770"/><circle cx="530" cy="778"/><circle cx="462" cy="800"/><circle cx="478" cy="798"/>
<circle cx="668" cy="760"/><circle cx="674" cy="753"/><circle cx="725" cy="767"/><circle cx="737" cy="760"/><circle cx="733" cy="775"/><circle cx="723" cy="765"/><circle cx="750" cy="655"/><circle cx="760" cy="660"/><circle cx="783" cy="693"/><circle cx="787" cy="700"/><circle cx="775" cy="705"/><circle cx="780" cy="712"/>
</g>
<g id="legend">
<rect x="1229" y="476" width="20" height="18" fill="#377EB8"/><text class="l" x="1270" y="493">I10</text>
<rect x="1229" y="506" width="20" height="18" fill="#E41A1C"/><text class="l" x="1270" y="523">I12</text>
<rect x="1229" y="536" width="20" height="18" fill="#4DAF4A"/><text class="l" x="1270" y="553">I11</text>
<rect x="1229" y="566" width="20" height="18" fill="#984EA3"/><text class="l" x="1270" y="583">I1</text>
<rect x="1229" y="596" width="20" height="18" fill="#FFD92F"/><text class="l" x="1270" y="613">I2</text>
<rect x="1229" y="626" width="20" height="18" fill="#FF7F00"/><text class="l" x="1270" y="643">I13</text>
<rect x="1229" y="656" width="20" height="18" fill="#F781BF"/><text class="l" x="1270" y="673">I3</text>
<rect x="1229" y="686" width="20" height="18" fill="#8DD3C7"/><text class="l" x="1270" y="703">I4</text>
<rect x="1229" y="716" width="20" height="18" fill="#B3B3B3"/><text class="l" x="1270" y="733">I14</text>
<rect x="1229" y="746" width="20" height="18" fill="#000000"/><text class="l" x="1270" y="763">I5</text>
<rect x="1229" y="776" width="20" height="18" fill="#56B4E9"/><text class="l" x="1270" y="793">I6</text>
<rect x="1229" y="806" width="20" height="18" fill="#BE80BD"/><text class="l" x="1270" y="823">I15</text>
<rect x="1229" y="836" width="20" height="18" fill="#FDB462"/><text class="l" x="1270" y="853">I7</text>
<rect x="1229" y="866" width="20" height="18" fill="#35101F"/><text class="l" x="1270" y="883">I8</text>
</g>
</svg>
